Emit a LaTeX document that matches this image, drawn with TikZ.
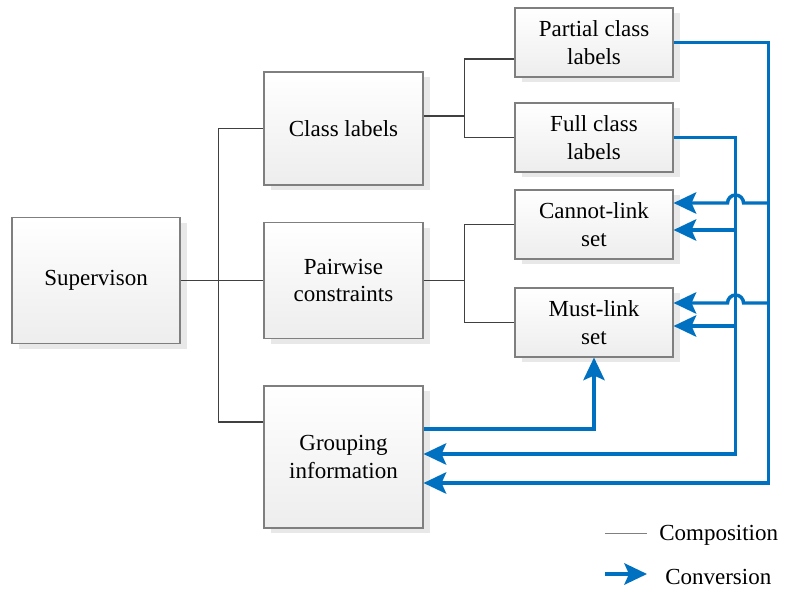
\documentclass[tikz,border=0pt]{standalone}
\usepackage{fontspec}
\setmainfont{Liberation Serif}
\usetikzlibrary{arrows.meta,shadows}

\definecolor{convblue}{HTML}{0070C0}
\definecolor{boxedge}{HTML}{7F7F7F}
\definecolor{compline}{HTML}{404040}

\begin{document}
\begin{tikzpicture}[x=0.75pt,y=0.75pt]
		\tikzset{
		    box/.style={rectangle,draw=boxedge,line width=0.8pt,top color=white,bottom color=gray!14,
		        drop shadow={shadow xshift=5pt,shadow yshift=-4pt,fill=gray!18,opacity=1},
		        align=center,inner sep=2pt,font=\fontsize{17.25}{20.5}\selectfont},
		    smallbox/.style={box,minimum width=118.5pt,minimum height=51.75pt},
		    comp/.style={draw=compline,line width=1.1pt},
		    conv/.style={draw=convblue,line width=2.6pt,-{Stealth[length=17pt,width=16pt,inset=3.5pt]}},
		    legend/.style={anchor=west,inner sep=0pt,font=\fontsize{17.25}{20.5}\selectfont}
		}
		\useasboundingbox (0,0) rectangle (785,593);

		% vertices
		\node[box,minimum width=126pt,minimum height=94.5pt] (sup) at (96,312.5) {Supervison};
		\node[box,minimum width=119.25pt,minimum height=84.75pt] (cls) at (343.5,464.5) {Class labels};
		\node[box,minimum width=119.25pt,minimum height=87pt] (pair) at (343.5,312.5) {Pairwise\\constraints};
		\node[box,minimum width=119.25pt,minimum height=106.5pt] (grp) at (343.5,136) {Grouping\\information};
		\node[smallbox] (part) at (594,550.5) {Partial class\\labels};
		\node[smallbox] (full) at (594,455.5) {Full class\\labels};
		\node[smallbox] (cannot) at (594,368.5) {Cannot-link\\set};
		\node[smallbox] (must) at (594,270.5) {Must-link\\set};

		% composition
		\draw[comp] (sup.east) -- ++(38,0) coordinate (hub);
		\draw[comp] (cls.west) -| (hub) |- ([shift={(0,35)}]grp.west);
		\draw[comp] (hub) -- (pair.west);
		\draw[comp] ([shift={(0,12.5)}]cls.east) -- ++(41,0) coordinate (clsjoin);
		\draw[comp] ([shift={(0,-16.5)}]part.west) -| (clsjoin) |- (full.west);
		\draw[comp] (pair.east) -- ++(41,0) coordinate (pairjoin);
		\draw[comp] (cannot.west) -| (pairjoin) |- (must.west);

		% conversion
		\draw[conv] (part.east) -- ++(95,0) |- ([shift={(0,-26)}]grp.east);
		\draw[conv] (full.east) -- ++(62,0) |- ([shift={(0,3)}]grp.east);
		\draw[conv] ([shift={(95,21.5)}]cannot.east) -- ++(-25,0) arc (0:180:8) -- ([shift={(0,21.5)}]cannot.east);
		\draw[conv] ([shift={(62,-5.5)}]cannot.east) -- ([shift={(0,-5.5)}]cannot.east);
		\draw[conv] ([shift={(95,19.5)}]must.east) -- ++(-25,0) arc (0:180:8) -- ([shift={(0,19.5)}]must.east);
		\draw[conv] ([shift={(62,-3.5)}]must.east) -- ([shift={(0,-3.5)}]must.east);
		\draw[conv] ([shift={(0,28)}]grp.east) -| (must.south);

		% legend
		\coordinate (compa) at (605,60);
		\coordinate (compb) at (647,60);
		\draw[draw=gray,line width=0.7pt] (compa) -- (compb);
		\node[legend] (lgcomp) at (659,58) {Composition};
		\coordinate (conva) at (605,19);
		\coordinate (convb) at (647,19);
		\draw[conv] (conva) -- (convb);
		\node[legend] (lgconv) at (665,16) {Conversion};

	\end{tikzpicture}
\end{document}
